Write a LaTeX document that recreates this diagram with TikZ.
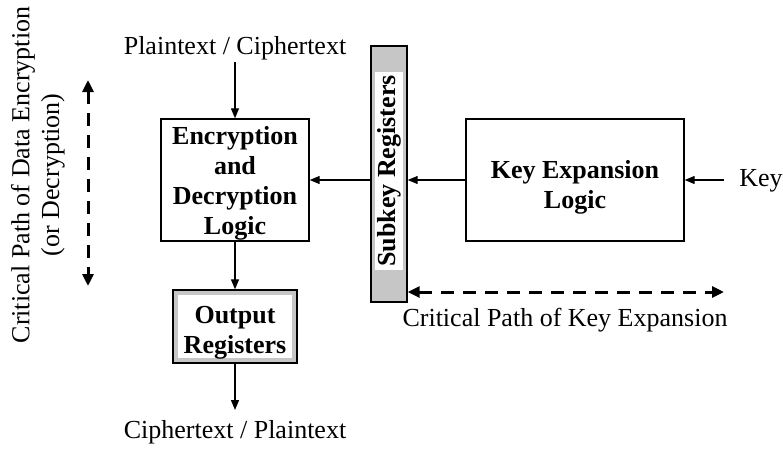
\documentclass[tikz,border=0pt]{standalone}
\usepackage{fontspec}
\setmainfont{Liberation Serif}
\usetikzlibrary{arrows.meta}
\begin{document}
\begin{tikzpicture}[x=1pt,y=-1pt,
  box/.style={draw=black, line width=1.4pt, fill=white, inner sep=0pt},
  shaded/.style={draw=black, line width=1.4pt, fill=gray!45, inner sep=0pt},
  inner/.style={fill=white, inner sep=0pt},
  bold/.style={inner sep=0pt, align=center, font=\fontsize{26}{30}\selectfont\bfseries},
  lbl/.style={inner sep=0pt, font=\fontsize{26}{30}\selectfont},
  arr/.style={line width=1.3pt, -{Triangle[length=10pt,width=8pt]}},
  critpath/.style={line width=3pt, dash pattern=on 13pt off 9pt, {Triangle[length=12pt,width=11pt]}-{Triangle[length=12pt,width=11pt]}}
]
\useasboundingbox (0,0) rectangle (783,469);
% boxes
\node[box, minimum width=148pt, minimum height=122pt] (enc) at (235,180) {};
\node[bold, yshift=-3pt] (enclbl) at (enc.center) {Encryption\\and\\Decryption\\Logic};
\node[box, minimum width=218pt, minimum height=122pt] (kexp) at (575,180) {};
\node[bold, yshift=-7pt] (kexplbl) at (kexp.center) {Key Expansion\\Logic};
\node[shaded, minimum width=36pt, minimum height=256pt] (sub) at (389,174) {};
\node[inner, minimum width=28pt, minimum height=198pt] (subwhite) at (389,171) {};
\node[bold, rotate=90] (sublbl) at (subwhite.center) {Subkey Registers};
\node[shaded, minimum width=124pt, minimum height=73pt] (out) at (235,326.5) {};
\node[inner, minimum width=114pt, minimum height=63pt] (outwhite) at (out.center) {};
\node[bold, yshift=-6pt] (outlbl) at (out.center) {Output\\Registers};
% texts
\node[lbl] (pt) at (235,48) {Plaintext / Ciphertext};
\node[lbl] (ct) at (235,432) {Ciphertext / Plaintext};
\node[lbl] (key) at (761,181) {Key};
\node[lbl] (cpke) at (565,320) {Critical Path of Key Expansion};
\node[lbl, rotate=90] (cpde1) at (23,175) {Critical Path of Data Encryption};
\node[lbl, rotate=90] (cpde2) at (53,175) {(or Decryption)};
% coordinates
\coordinate (ptin) at (235,62);
\coordinate (ctout) at (235,410);
\coordinate (keyin) at (724,180);
\coordinate (vtop) at (88,80);
\coordinate (vbot) at (88,286);
\coordinate (hl) at (sub.east |- 0,292);
\coordinate (hr) at (724,292);
% connectors
\draw[arr] (ptin) -- (enc.north);
\draw[arr] (enc.south) -- (out.north);
\draw[arr] (out.south) -- (ctout);
\draw[arr] (sub.west |- enc.east) -- (enc.east);
\draw[arr] (kexp.west) -- (kexp.west -| sub.east);
\draw[arr] (keyin) -- (kexp.east);
\draw[critpath] (vtop) -- (vbot);
\draw[critpath] (hl) -- (hr);
\end{tikzpicture}
\end{document}
